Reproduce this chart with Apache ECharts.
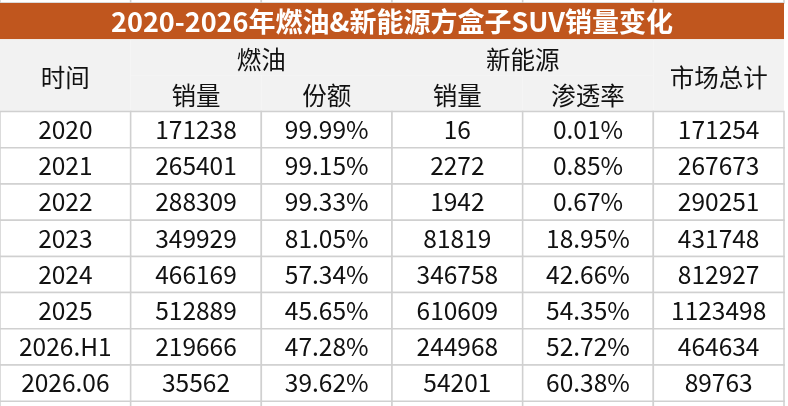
<!DOCTYPE html>
<html>
<head>
<meta charset="utf-8">
<script src="https://cdn.jsdelivr.net/npm/echarts@6/dist/echarts.min.js"></script>
<style>
  html, body { margin: 0; padding: 0; background: #fff; }
  #main { width: 788px; height: 406px; }
</style>
</head>
<body>
<div id="main"></div>
<script>
// 表格数据
const title = '2020-2026年燃油&新能源方盒子SUV销量变化'
const years = ['2020', '2021', '2022', '2023', '2024', '2025', '2026.H1', '2026.06']
const fuelSales = [171238, 265401, 288309, 349929, 466169, 512889, 219666, 35562]
const fuelShare = [99.99, 99.15, 99.33, 81.05, 57.34, 45.65, 47.28, 39.62]
const nevSales = [16, 2272, 1942, 81819, 346758, 610609, 244968, 54201]
const nevShare = [0.01, 0.85, 0.67, 18.95, 42.66, 54.35, 52.72, 60.38]
const totals = [171254, 267673, 290251, 431748, 812927, 1123498, 464634, 89763]
const groupHeads = ['时间', '燃油', '新能源', '市场总计']
const subHeads = ['销量', '份额', '销量', '渗透率']

const FONT = '"Noto Sans CJK SC", "Noto Sans", sans-serif'
const pct = v => v.toFixed(2) + '%'

// 行: 0 空白, 1 标题, 2-3 表头, 4-11 数据, 12 空白
const rows = ['', '标题', '表头', '子表头'].concat(years, [' '])
const cols = ['时间', '燃油销量', '燃油份额', '新能源销量', '渗透率', '市场总计']

let cells = []
// 上下空白行
for (let c = 0; c < 6; c++) {
    cells.push({ col: c, row: 0, text: '', kind: 'blank' })
    cells.push({ col: c, row: rows.length - 1, text: '', kind: 'blank' })
}
// 标题
cells.push({ col: 0, row: 1, spanX: 6, text: title, kind: 'title' })
// 表头
cells.push({ col: 0, row: 2, spanY: 2, text: groupHeads[0], kind: 'head' })
cells.push({ col: 1, row: 2, spanX: 2, text: groupHeads[1], kind: 'head' })
cells.push({ col: 3, row: 2, spanX: 2, text: groupHeads[2], kind: 'head' })
cells.push({ col: 5, row: 2, spanY: 2, text: groupHeads[3], kind: 'head' })
subHeads.forEach((t, i) => cells.push({ col: i + 1, row: 3, text: t, kind: 'head' }))
// 数据
years.forEach((y, i) => {
    const vals = [y, fuelSales[i], pct(fuelShare[i]), nevSales[i], pct(nevShare[i]), totals[i]]
    vals.forEach((v, c) => cells.push({ col: c, row: i + 4, text: String(v), kind: 'data' }))
})

function renderItem(params, api) {
    const cell = cells[params.dataIndex]
    const p = api.coord([api.value(0), api.value(1)])
    const s = api.size([1, 1])
    const x = p[0] - s[0] / 2
    const y = p[1] - s[1] / 2
    const w = s[0] * (cell.spanX || 1)
    const h = s[1] * (cell.spanY || 1)
    let fill = '#fff', stroke = '#d0d0d0', color = '#111', size = 24.5, weight = 'normal', dy = 0
    if (cell.kind === 'title') {
        fill = '#c0561e'; stroke = null; color = '#fff'; size = 27; weight = 'bold'; dy = 1
    } else if (cell.kind === 'head') {
        fill = '#f2f2f2'; stroke = null; dy = 2
    }
    return {
        type: 'group',
        children: [{
            type: 'rect',
            shape: { x: x, y: y, width: w, height: h },
            style: { fill: fill, stroke: stroke, lineWidth: 1.5 }
        }, {
            type: 'text',
            style: {
                text: cell.text,
                x: x + w / 2,
                y: y + h / 2 + dy,
                fill: color,
                fontSize: size,
                fontWeight: weight,
                fontFamily: FONT,
                align: 'center',
                verticalAlign: 'middle'
            }
        }]
    }
}

const rowH = 36.2
let myChart = echarts.init(document.getElementById('main'))
myChart.setOption({
    animation: false,
    grid: {
        left: 0,
        width: 784,
        top: 3 - rowH,
        height: rowH * rows.length,
        outerBoundsMode: 'none',
        containLabel: false
    },
    xAxis: { type: 'category', data: cols, show: false },
    yAxis: { type: 'category', data: rows, inverse: true, show: false },
    series: [{
        type: 'custom',
        renderItem: renderItem,
        clip: false,
        data: cells.map(c => [c.col, c.row])
    }]
})
</script>
</body>
</html>
